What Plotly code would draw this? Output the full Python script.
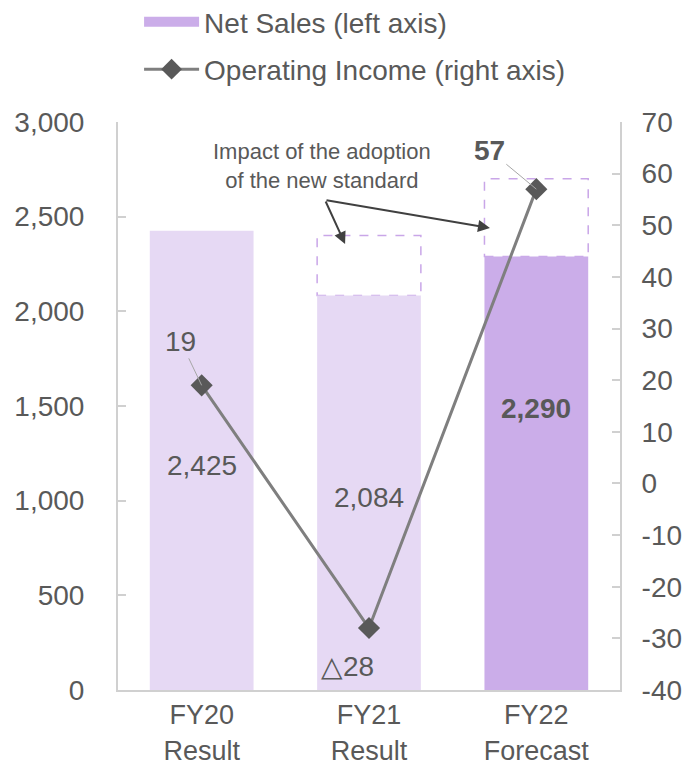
import plotly.graph_objects as go

categories = ["FY20<br>Result", "FY21<br>Result", "FY22<br>Forecast"]
net_sales = [2425, 2084, 2290]
net_sales_with_impact = [None, 2400, 2700]
op_income = [19, -28, 57]
sales_labels = ["2,425", "2,084", "<b>2,290</b>"]
income_labels = ["19", "△28", "<b>57</b>"]
left_ticks = [0, 500, 1000, 1500, 2000, 2500, 3000]
right_ticks = [-40, -30, -20, -10, 0, 10, 20, 30, 40, 50, 60, 70]

light = "#E6D9F4"
dark = "#CBADE9"
txt = "#595959"
axis_col = "#D0D0D0"
font_main = "Liberation Sans, Arial, sans-serif"
FS = 28

xs = list(range(len(categories)))
bw = 0.62

fig = go.Figure()
fig.add_trace(go.Bar(
    x=xs[:2], y=net_sales[:2], width=bw, marker=dict(color=light, line=dict(width=0)),
    showlegend=False, hoverinfo="skip"))
fig.add_trace(go.Bar(
    x=xs[2:], y=net_sales[2:], width=bw, marker=dict(color=dark, line=dict(width=0)),
    showlegend=False))
# legend entry for net sales (wide swatch)
fig.add_trace(go.Scatter(
    x=[None], y=[None], mode="lines", line=dict(color=dark, width=16),
    name="Net Sales (left axis)", legendgroup="a"))
fig.add_trace(go.Scatter(
    x=xs, y=op_income, yaxis="y2", mode="lines+markers",
    line=dict(color="#7F7F7F", width=3),
    marker=dict(symbol="diamond", size=17, color="#595959"),
    name="Operating Income (right axis)", legendgroup="b"))

shapes = []
for i, top in enumerate(net_sales_with_impact):
    if top is None:
        continue
    shapes.append(dict(type="rect", xref="x", yref="y",
                       x0=xs[i] - bw / 2, x1=xs[i] + bw / 2,
                       y0=net_sales[i], y1=top,
                       line=dict(color="#C9A6E8", width=1.5, dash="dash"),
                       fillcolor="white", layer="below"))

annotations = []
yshift = [-5, -5, 65]
for i in range(3):
    annotations.append(dict(x=xs[i], y=net_sales[i] / 2, xref="x", yref="y", text=sales_labels[i],
                            showarrow=False, yshift=yshift[i],
                            font=dict(size=FS, color=txt, family=font_main)))
annotations.append(dict(x=xs[0], y=op_income[0], xref="x", yref="y2", text=income_labels[0],
                        showarrow=True, arrowhead=0, arrowwidth=1, arrowcolor="#A6A6A6",
                        ax=-21, ay=-44, font=dict(size=FS, color=txt, family=font_main)))
annotations.append(dict(x=xs[1], y=op_income[1], xref="x", yref="y2", text=income_labels[1],
                        showarrow=False, xshift=-22, yshift=-38,
                        font=dict(size=FS, color=txt, family=font_main)))
annotations.append(dict(x=xs[2], y=op_income[2], xref="x", yref="y2", text=income_labels[2],
                        showarrow=True, arrowhead=0, arrowwidth=1, arrowcolor="#A6A6A6",
                        ax=-47, ay=-39, font=dict(size=FS, color=txt, family=font_main)))
annotations.append(dict(x=0.72, y=2765, xref="x", yref="y",
                        text="Impact of the adoption<br>of the new standard",
                        showarrow=False, font=dict(size=22, color=txt, family=font_main)))
for tx, ty in [(0.857, 2356), (1.723, 2440)]:
    annotations.append(dict(x=tx, y=ty, xref="x", yref="y", ax=0.737, ay=2588,
                            axref="x", ayref="y", text="", showarrow=True,
                            arrowhead=2, arrowsize=1.2, arrowwidth=2, arrowcolor="#404040"))

fig.update_layout(
    width=685, height=769,
    margin=dict(l=118, r=65, t=122, b=79, autoexpand=False),
    paper_bgcolor="white", plot_bgcolor="white",
    barmode="overlay",
    font=dict(family=font_main, color=txt, size=FS),
    showlegend=True,
    legend=dict(x=0.042, y=1.22, xanchor="left", yanchor="top",
                font=dict(size=FS, color=txt, family=font_main),
                itemwidth=55, tracegroupgap=8, bgcolor="rgba(0,0,0,0)"),
    xaxis=dict(tickmode="array", tickvals=xs, ticktext=categories, range=[-0.5, 2.5],
               showline=True, linecolor=axis_col, linewidth=2, ticks="",
               showgrid=False, zeroline=False, tickfont=dict(size=27, color=txt),
               ticklabelstandoff=0),
    yaxis=dict(range=[0, 3000], tickmode="array", tickvals=left_ticks,
               ticktext=[f"{v:,}" for v in left_ticks], showline=True,
               linecolor=axis_col, linewidth=2, ticks="inside", ticklen=8,
               tickcolor=axis_col, tickwidth=2, showgrid=False, zeroline=False,
               tickfont=dict(size=FS, color=txt), ticklabelstandoff=26),
    yaxis2=dict(range=[-40, 70], tickmode="array", tickvals=right_ticks,
                ticktext=[str(v) for v in right_ticks], overlaying="y", side="right",
                showline=True, linecolor=axis_col, linewidth=2, ticks="inside", ticklen=8,
                tickcolor=axis_col, tickwidth=2, showgrid=False, zeroline=False,
                tickfont=dict(size=FS, color=txt), ticklabelstandoff=14),
    shapes=shapes,
    annotations=annotations,
)

fig.write_html("out.html", config={"displayModeBar": False},
               post_script="document.body.style.margin='0';")
